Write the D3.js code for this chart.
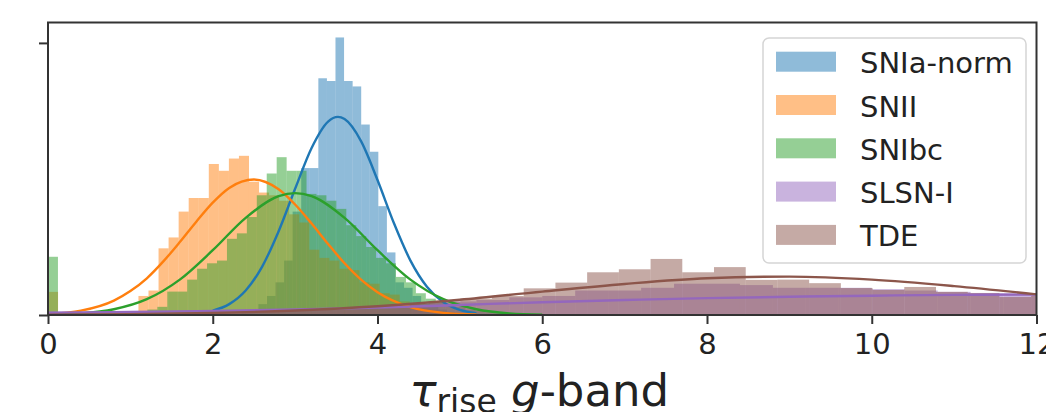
<!DOCTYPE html>
<html>
<head>
<meta charset="utf-8">
<script src="https://cdn.jsdelivr.net/npm/d3@7"></script>
<style>
  body { margin: 0; background: #fff; }
  svg { display: block; font-family: "DejaVu Sans", sans-serif; }
</style>
</head>
<body>
<div id="chart"></div>
<script>
// classes, in drawing order
const classes = ["SNIa-norm", "SNII", "SNIbc", "SLSN-I", "TDE"];
const colors = ["#1f77b4", "#ff7f0e", "#2ca02c", "#9467bd", "#8c564b"];

// histogram bins: first edge, bin width, density per bin
const snIaStart = 2.346, snIaWidth = 0.104;
const snIaHist = [0.01, 0.02, 0.04, 0.07, 0.12, 0.2, 0.38, 0.54, 0.54, 0.87, 0.86,
  1.02, 0.86, 0.84, 0.70, 0.60, 0.40, 0.23, 0.12, 0.10, 0.07, 0.04, 0.03, 0.02, 0.01, 0.005];

const snIIStart = 0, snIIWidth = 0.122;
const snIIHist = [0.085, 0, 0, 0, 0, 0, 0, 0, 0.01, 0.07, 0.09, 0.245, 0.285, 0.38, 0.43, 0.43,
  0.555, 0.53, 0.575, 0.585, 0.49, 0.45, 0.44, 0.42, 0.37, 0.34, 0.24, 0.21, 0.2, 0.17,
  0.165, 0.12, 0.115, 0.08, 0.075, 0.05, 0.04, 0.03, 0.02, 0.012, 0.008, 0.005];

const snIbcStart = 0, snIbcWidth = 0.1207;
const snIbcHist = [0.214, 0, 0, 0, 0, 0, 0, 0, 0, 0.01, 0.02, 0.03, 0.086, 0.086, 0.13, 0.17,
  0.19, 0.2, 0.28, 0.30, 0.36, 0.44, 0.52, 0.58, 0.53, 0.53, 0.445, 0.44, 0.42, 0.39, 0.33,
  0.29, 0.25, 0.21, 0.19, 0.14, 0.12, 0.08, 0.06, 0.05, 0.04, 0.03, 0.02, 0.015, 0.01, 0.008];

const slsnStart = 0, slsnWidth = 0.4;
const slsnHist = [0.012, 0.01, 0.012, 0.012, 0.015, 0.016, 0.018, 0.02, 0.022, 0.025, 0.035,
  0.045, 0.05, 0.055, 0.065, 0.07, 0.09, 0.09, 0.1, 0.115, 0.115, 0.11, 0.1, 0.1, 0.1,
  0.095, 0.09, 0.085, 0.08, 0.08, 0.075];

const tdeStart = 0, tdeWidth = 0.385;
const tdeHist = [0.01, 0.008, 0.006, 0.006, 0.008, 0.01, 0.012, 0.015, 0.02, 0.025, 0.03,
  0.04, 0.05, 0.06, 0.07, 0.098, 0.119, 0.157, 0.168, 0.206, 0.157, 0.176, 0.129, 0.13,
  0.117, 0.099, 0.092, 0.103, 0.085, 0.081, 0.066, 0.07];

// fitted density curves, sampled along tau
const snIaCurveX = [2.0, 2.2, 2.4, 2.6, 2.8, 3.0, 3.2, 3.4, 3.52, 3.6, 3.8, 4.0, 4.2, 4.4, 4.6, 4.8, 5.0, 5.2];
const snIaCurveY = [0.016, 0.040, 0.090, 0.178, 0.308, 0.464, 0.614, 0.711, 0.728, 0.720, 0.639, 0.496, 0.337, 0.200, 0.104, 0.047, 0.019, 0.007];

const snIICurveX = [0, 0.4, 0.8, 1.0, 1.2, 1.4, 1.6, 1.8, 2.0, 2.2, 2.5, 2.8, 3.0, 3.2, 3.4, 3.6, 3.8, 4.0, 4.4, 4.8, 5.2];
const snIICurveY = [0.004, 0.016, 0.053, 0.088, 0.135, 0.197, 0.268, 0.343, 0.413, 0.467, 0.498, 0.462, 0.406, 0.336, 0.261, 0.190, 0.130, 0.084, 0.029, 0.008, 0.002];

const snIbcCurveX = [0, 0.4, 0.8, 1.2, 1.6, 2.0, 2.4, 2.8, 3.0, 3.2, 3.6, 4.0, 4.4, 4.8, 5.2, 5.6, 6.0];
const snIbcCurveY = [0.0015, 0.006, 0.021, 0.058, 0.130, 0.238, 0.357, 0.437, 0.448, 0.437, 0.357, 0.238, 0.130, 0.058, 0.021, 0.006, 0.0015];

const slsnCurveX = [0, 1, 2, 3, 4, 5, 6, 7, 8, 9, 10, 11, 12];
const slsnCurveY = [0.008, 0.011, 0.015, 0.020, 0.027, 0.037, 0.047, 0.055, 0.062, 0.067, 0.071, 0.074, 0.075];

const tdeCurveX = [0, 1, 2, 3, 4, 5, 6, 7, 8, 9, 10, 11, 12];
const tdeCurveY = [0.001, 0.003, 0.0075, 0.0166, 0.032, 0.056, 0.086, 0.114, 0.135, 0.141, 0.130, 0.106, 0.076];

const xTicks = [0, 2, 4, 6, 8, 10, 12];
const yTicks = [0, 1];

const hists = [
  { start: snIaStart, width: snIaWidth, values: snIaHist },
  { start: snIIStart, width: snIIWidth, values: snIIHist },
  { start: snIbcStart, width: snIbcWidth, values: snIbcHist },
  { start: slsnStart, width: slsnWidth, values: slsnHist },
  { start: tdeStart, width: tdeWidth, values: tdeHist }
];
const curves = [
  [snIaCurveX, snIaCurveY],
  [snIICurveX, snIICurveY],
  [snIbcCurveX, snIbcCurveY],
  [slsnCurveX, slsnCurveY],
  [tdeCurveX, tdeCurveY]
];

const W = 1046, H = 412;
const plotLeft = 48, plotRight = 1036.5, plotTop = 22.5, plotBottom = 315;

const svg = d3.select("#chart").append("svg")
  .attr("width", W)
  .attr("height", H);

const x = d3.scaleLinear().domain([0, 12]).range([plotLeft, plotRight]);
const y = d3.scaleLinear().domain([0, 1.075]).range([plotBottom, plotTop]);

svg.append("clipPath").attr("id", "plot")
  .append("rect")
  .attr("x", plotLeft).attr("y", plotTop)
  .attr("width", plotRight - plotLeft).attr("height", plotBottom - plotTop);

const plot = svg.append("g").attr("clip-path", "url(#plot)");

// histograms first (patches sit under the lines)
hists.forEach((h, i) => {
  const bins = h.values.map((v, k) => ({ x0: h.start + k * h.width, x1: h.start + (k + 1) * h.width, v: v }));
  plot.append("g")
    .selectAll("rect")
    .data(bins.filter(d => d.v > 0))
    .enter()
    .append("rect")
    .attr("x", d => x(d.x0))
    .attr("width", d => x(d.x1) - x(d.x0))
    .attr("y", d => y(d.v))
    .attr("height", d => y(0) - y(d.v))
    .style("fill", colors[i])
    .style("fill-opacity", 0.5);
});

// fitted curves on top
const line = d3.line()
  .x(d => x(d[0]))
  .y(d => y(d[1]))
  .curve(d3.curveMonotoneX);

curves.forEach((c, i) => {
  const pts = c[0].map((v, k) => [v, c[1][k]]);
  plot.append("path")
    .datum(pts)
    .attr("d", line)
    .style("fill", "none")
    .style("stroke", colors[i])
    .style("stroke-width", 2.4);
});

// axes
const xAxis = svg.append("g")
  .attr("transform", "translate(0," + plotBottom + ")")
  .call(d3.axisBottom(x).tickValues(xTicks).tickSize(9).tickPadding(9).tickSizeOuter(0));
xAxis.select(".domain").remove();
xAxis.selectAll("line").style("stroke", "#333").style("stroke-width", 2);
xAxis.selectAll("text").style("font-size", "29px").style("fill", "#222")
  .style("font-family", "DejaVu Sans, sans-serif");

const yAxis = svg.append("g")
  .attr("transform", "translate(" + plotLeft + ",0)")
  .call(d3.axisLeft(y).tickValues(yTicks).tickSize(9).tickFormat("").tickSizeOuter(0));
yAxis.select(".domain").remove();
yAxis.selectAll("line").style("stroke", "#333").style("stroke-width", 2);

// frame
svg.append("rect")
  .attr("x", plotLeft).attr("y", plotTop)
  .attr("width", plotRight - plotLeft).attr("height", plotBottom - plotTop)
  .style("fill", "none")
  .style("stroke", "#333")
  .style("stroke-width", 2);

// x label: tau_rise g-band
const xlabel = svg.append("text")
  .attr("x", (plotLeft + plotRight) / 2 - 3)
  .attr("y", 406)
  .attr("text-anchor", "middle")
  .style("font-size", "45px")
  .style("fill", "#222");
xlabel.append("tspan").style("font-style", "italic").text("τ");
xlabel.append("tspan").attr("dy", 7).style("font-size", "33px").text("rise");
xlabel.append("tspan").attr("dy", -7).text(" ");
xlabel.append("tspan").style("font-style", "italic").text("g");
xlabel.append("tspan").text("-band");

// legend
const legend = svg.append("g");
legend.append("rect")
  .attr("x", 763).attr("y", 38)
  .attr("width", 263).attr("height", 225)
  .attr("rx", 6)
  .style("fill", "#fff").style("fill-opacity", 0.8)
  .style("stroke", "#d5d5d5").style("stroke-width", 1.5);

const rows = legend.selectAll(".entry")
  .data(classes)
  .enter()
  .append("g")
  .attr("class", "entry")
  .attr("transform", (d, i) => "translate(776," + (51.7 + i * 43.3) + ")");
rows.append("rect")
  .attr("width", 60).attr("height", 20)
  .style("fill", (d, i) => colors[i])
  .style("fill-opacity", 0.5);
rows.append("text")
  .attr("x", 84).attr("y", 21.5)
  .style("font-size", "29px")
  .style("fill", "#222")
  .text(d => d);
</script>
</body>
</html>
